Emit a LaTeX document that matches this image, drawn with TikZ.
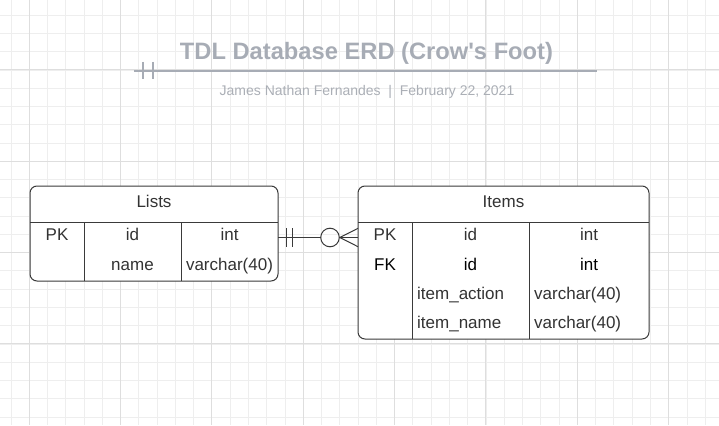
\documentclass[tikz,border=0pt]{standalone}
\usepackage{fontspec}
\setmainfont{Liberation Sans}
\newfontfamily\titlefont{Liberation Sans}[Ligatures=TeXOff]
\definecolor{minorgrid}{HTML}{EEEEEE}
\definecolor{majorgrid}{HTML}{DEDEDE}
\definecolor{titlegray}{HTML}{A7ACB5}
\definecolor{subgray}{HTML}{ABAFB6}
\definecolor{tableline}{HTML}{3A3A3A}
\definecolor{celltext}{HTML}{333333}
\tikzset{
  tablebox/.style={draw=tableline, fill=white, line width=1pt, rounded corners=7pt},
  rule/.style={draw=tableline, line width=1pt},
  cell/.style={font=\fontsize{17}{20}\selectfont, text=celltext, inner sep=0pt, text height=12.2pt, text depth=0pt},
  link/.style={draw=tableline, line width=1pt}
}
\begin{document}
\begin{tikzpicture}[x=1pt, y=-1pt]
        \useasboundingbox (0,0) rectangle (719,425);
        \fill[white] (0,0) rectangle (719,425);

        % Draw grid
        \foreach \k in {0,...,38}
          \draw[minorgrid, line width=1pt] ({11+18.27*\k},0) -- ++(0,425);
        \foreach \k in {0,...,22}
          \draw[minorgrid, line width=1pt] (0,{15.2+18.27*\k}) -- ++(719,0);
        \foreach \k in {0,...,7}
          \draw[majorgrid, line width=1pt] ({29.3+91.33*\k},0) -- ++(0,425);
        \foreach \k in {0,...,3}
          \draw[majorgrid, line width=1pt] (0,{70+91.33*\k}) -- ++(719,0);

        % Title
        \node[font=\titlefont\bfseries\fontsize{23.7}{28}\selectfont, text=titlegray] (title) at (366.5,53) {TDL Database ERD (Crow's Foot)};
        \coordinate (ruleL) at (134,71);
        \coordinate (ruleR) at (597,71);
        \draw[titlegray, line width=2pt] (ruleL) -- (ruleR);
        \draw[titlegray, line width=1.6pt] (142.7,62) -- (142.7,79);
        \draw[titlegray, line width=1.6pt] (152.7,62) -- (152.7,79);
        \node[font=\fontsize{14}{17}\selectfont, text=subgray] (subtitle) at (367,92) {James Nathan Fernandes\ \ |\ \ February 22, 2021};

        % Lists table
        \draw[tablebox] (30,186) rectangle (278,281);
        \draw[rule] (30,222) -- (278,222);
        \draw[rule] (84,222) -- (84,281);
        \draw[rule] (181.3,222) -- (181.3,281);
        \node[cell] (lists) at (154,201.5) {Lists};
        \node[cell] (lists-pk) at (57,234.7) {PK};
        \node[cell] (lists-id) at (132.5,234.7) {id};
        \node[cell] (lists-idtype) at (229.5,234.7) {int};
        \node[cell] (lists-name) at (132.5,264) {name};
        \node[cell] (lists-nametype) at (229.5,264) {varchar(40)};

        % Items table
        \draw[tablebox] (358,186) rectangle (649,339);
        \draw[rule] (358,222.5) -- (649,222.5);
        \draw[rule] (412.3,222.5) -- (412.3,339);
        \draw[rule] (529.3,222.5) -- (529.3,339);
        \node[cell] (items) at (503.5,201.5) {Items};
        \node[cell] (items-pk) at (385,234.7) {PK};
        \node[cell] (items-id) at (470.5,234.7) {id};
        \node[cell] (items-idtype) at (589,234.7) {int};
        \node[cell, text=black] (items-fk) at (385,264) {FK};
        \node[cell, text=black] (items-listid) at (470.5,264) {id};
        \node[cell, text=black] (items-listidtype) at (589,264) {int};
        \node[cell, anchor=west] (items-action) at (417,293) {item\_action};
        \node[cell, anchor=west] (items-actiontype) at (534,293) {varchar(40)};
        \node[cell, anchor=west] (items-name) at (417,322) {item\_name};
        \node[cell, anchor=west] (items-nametype) at (534,322) {varchar(40)};

        % Relationship: one Lists to zero or many Items
        \coordinate (one) at (278,237.5);
        \coordinate (many) at (358,237.5);
        \node[circle, draw=tableline, line width=1pt, minimum size=18.6pt, inner sep=0pt] (zero) at (330,237.5) {};
        \draw[link] (one) -- (zero.west);
        \draw[link] (286.7,228) -- (286.7,247);
        \draw[link] (292.7,228) -- (292.7,247);
        \draw[link] (zero.east) -- (many);
        \draw[link] (zero.east) -- (many |- 0,228.3);
        \draw[link] (zero.east) -- (many |- 0,246.7);
\end{tikzpicture}
\end{document}
